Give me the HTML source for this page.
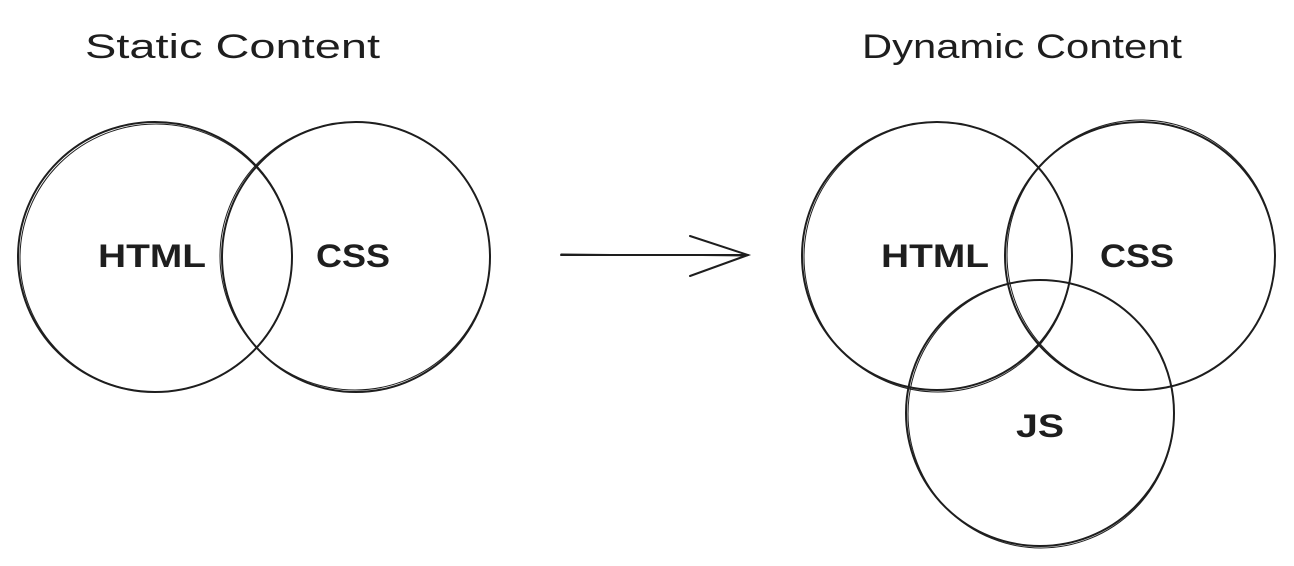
<!DOCTYPE html>
<html><head><meta charset="utf-8"><style>
html,body{margin:0;padding:0;background:#fff;}
svg{display:block}
text{font-family:"Liberation Sans",sans-serif;fill:#1e1e1e;}
</style></head><body>
<svg width="1294" height="566" viewBox="0 0 1294 566" xmlns="http://www.w3.org/2000/svg">
<g fill="none" stroke="#1e1e1e" stroke-width="2" stroke-linecap="round">
<ellipse cx="155" cy="257" rx="137" ry="135"/>
<ellipse cx="156" cy="258" rx="136" ry="134" stroke-width="1"/>
<ellipse cx="356" cy="257" rx="134" ry="135"/>
<ellipse cx="355" cy="256" rx="135" ry="134" stroke-width="1"/>
<ellipse cx="937" cy="256" rx="135" ry="134"/>
<ellipse cx="938" cy="257" rx="134" ry="135" stroke-width="1"/>
<ellipse cx="1140" cy="256" rx="135" ry="134"/>
<ellipse cx="1141" cy="255" rx="134" ry="135" stroke-width="1"/>
<ellipse cx="1040" cy="413" rx="134" ry="133"/>
<ellipse cx="1041" cy="414" rx="133" ry="134" stroke-width="1"/>
<path d="M561 255 L748 255"/>
<path d="M561 254 L747 256" stroke-width="1"/>
<path d="M690 236 L748 255 L690 276"/>
</g>
<text x="85" y="58" font-size="34" textLength="295" lengthAdjust="spacingAndGlyphs">Static Content</text>
<text x="862" y="58" font-size="34" textLength="320" lengthAdjust="spacingAndGlyphs">Dynamic Content</text>
<text x="98" y="267" font-size="32" font-weight="bold" textLength="108" lengthAdjust="spacingAndGlyphs">HTML</text>
<text x="316" y="267" font-size="32" font-weight="bold" textLength="74" lengthAdjust="spacingAndGlyphs">CSS</text>
<text x="881" y="267" font-size="32" font-weight="bold" textLength="108" lengthAdjust="spacingAndGlyphs">HTML</text>
<text x="1100" y="267" font-size="32" font-weight="bold" textLength="74" lengthAdjust="spacingAndGlyphs">CSS</text>
<text x="1016" y="437" font-size="32" font-weight="bold" textLength="48" lengthAdjust="spacingAndGlyphs">JS</text>
</svg>
</body></html>
